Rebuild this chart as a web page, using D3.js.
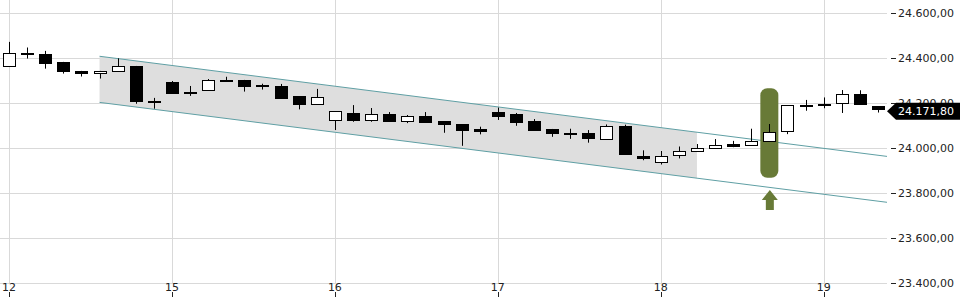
<!DOCTYPE html>
<html><head><meta charset="utf-8">
<script src="https://cdn.jsdelivr.net/npm/d3@7"></script>
<style>body{margin:0;background:#fff}svg{display:block;font-family:"DejaVu Sans",sans-serif}</style>
</head><body><svg id="c" width="960" height="300"></svg>
<script>
// ---- data ----
const dayLabels = ["12","15","16","17","18","19"];
const dayStartIdx = [0,9,18,27,36,45];
const opens  = [24365,24424,24418,24384,24344,24334,24343,24366,24212,24295,24251,24258,24303,24304,24281,24278,24232,24198,24124,24157,24127,24152,24118,24143,24121,24108,24087,24161,24152,24120,24086,24069,24066,24042,24099,23968,23940,23969,23986,24000,24019,24016,24031,24075,24193,24199,24198,24241,24187];
const highs  = [24473,24448,24433,24384,24344,24344,24400,24366,24224,24299,24277,24308,24318,24304,24287,24286,24232,24264,24165,24192,24179,24161,24148,24161,24121,24108,24096,24181,24157,24130,24086,24087,24081,24106,24105,23991,23988,24008,24019,24041,24033,24087,24108,24191,24215,24226,24259,24258,24187];
const lows   = [24362,24399,24354,24332,24319,24310,24342,24198,24176,24247,24233,24258,24299,24252,24261,24225,24173,24196,24081,24118,24118,24122,24112,24118,24069,24011,24062,24126,24100,24082,24051,24042,24025,24038,23973,23947,23928,23955,23986,24000,24005,24016,24031,24063,24167,24178,24157,24197,24159];
const closes = [24423,24419,24376,24343,24334,24344,24365,24212,24209,24247,24249,24302,24301,24278,24279,24225,24198,24227,24164,24127,24152,24122,24142,24118,24106,24082,24077,24145,24118,24082,24069,24067,24042,24099,23973,23958,23967,23986,24001,24013,24010,24032,24072,24191,24191,24197,24240,24197,24171.8];
const yTicks = [24600,24400,24200,24000,23800,23600,23400];
const channelIdx = [5, 48.5];
const channelUpper = [24409, 23964];
const channelLower = [24204, 23760];
const shadeEndIdx = 38;
const highlightIdx = 42;
const highlightRange = [23869, 24267];
const arrowRange = [23726, 23815];
const lastPrice = 24171.80;

// ---- scales ----
const svg = d3.select("#c");
const x = d3.scaleLinear().domain([-0.5, 48.5]).range([0, 887]);
const y = d3.scaleLinear().domain([23400, 24600]).range([283.3, 13.3]);
const de = d3.formatLocale({decimal:",", thousands:".", grouping:[3], currency:["","€"]});
const fmt = de.format(",.2f");
const crisp = v => Math.round(v) + 0.5;

// gridlines
svg.append("g").selectAll("line").data(yTicks).join("line")
  .attr("x1", 0).attr("x2", 887).attr("y1", d => crisp(y(d))).attr("y2", d => crisp(y(d)))
  .attr("stroke", "#d9d9d9");
svg.append("g").selectAll("line").data(dayStartIdx).join("line")
  .attr("x1", d => crisp(x(d))).attr("x2", d => crisp(x(d))).attr("y1", 0).attr("y2", 284)
  .attr("stroke", "#d9d9d9");

// channel
const trend = (arr, i) => arr[0] + (arr[1]-arr[0]) * (i - channelIdx[0]) / (channelIdx[1]-channelIdx[0]);
const shadeIdx = [channelIdx[0], shadeEndIdx];
const shadePts = shadeIdx.map(i => [x(i), y(trend(channelUpper, i))])
  .concat(shadeIdx.slice().reverse().map(i => [x(i), y(trend(channelLower, i))]));
svg.append("polygon").attr("points", shadePts.map(p => p.join(",")).join(" ")).attr("fill", "#dedede");
[channelUpper, channelLower].forEach(arr => {
  svg.append("line")
    .attr("x1", x(channelIdx[0])).attr("y1", y(arr[0]))
    .attr("x2", x(channelIdx[1])).attr("y2", y(arr[1]))
    .attr("stroke", "#5f9fa4").attr("stroke-width", 1);
});

// highlight
const green = "#687a37";
svg.append("rect")
  .attr("x", x(highlightIdx) - 9).attr("width", 18)
  .attr("y", y(highlightRange[1])).attr("height", y(highlightRange[0]) - y(highlightRange[1]))
  .attr("rx", 7).attr("fill", green);

// candles
const idx = d3.range(opens.length);
const cg = svg.append("g");
cg.selectAll("line").data(idx).join("line")
  .attr("x1", i => crisp(x(i))).attr("x2", i => crisp(x(i)))
  .attr("y1", i => y(highs[i])).attr("y2", i => y(lows[i]))
  .attr("stroke", "#000");
cg.selectAll("rect").data(idx).join("rect")
  .attr("x", i => Math.round(x(i)) - 5.5).attr("width", 12)
  .attr("y", i => Math.round(y(Math.max(opens[i], closes[i]))) + 0.5)
  .attr("height", i => Math.max(1, Math.round(Math.abs(y(opens[i]) - y(closes[i])))))
  .attr("fill", i => closes[i] >= opens[i] ? "#fff" : "#000")
  .attr("stroke", "#000");

// arrow
const ax = x(highlightIdx) + 0.5, at = y(arrowRange[1]), ab = y(arrowRange[0]);
svg.append("path")
  .attr("d", `M${ax},${at} L${ax+8},${at+10} L${ax+4},${at+10} L${ax+4},${ab} L${ax-4},${ab} L${ax-4},${at+10} L${ax-8},${at+10} Z`)
  .attr("fill", green);

// y axis
const ya = svg.append("g");
ya.selectAll("line").data(yTicks).join("line")
  .attr("x1", 891).attr("x2", 896).attr("y1", d => crisp(y(d))).attr("y2", d => crisp(y(d)))
  .attr("stroke", "#222");
ya.selectAll("text").data(yTicks).join("text")
  .attr("x", 898).attr("y", d => y(d)).attr("dy", "0.36em")
  .attr("font-size", 11).attr("fill", "#222").text(d => fmt(d));

// x axis
const xa = svg.append("g");
xa.selectAll("line").data(dayStartIdx).join("line")
  .attr("x1", d => crisp(x(d))).attr("x2", d => crisp(x(d))).attr("y1", 292).attr("y2", 297)
  .attr("stroke", "#222");
xa.selectAll("text").data(dayStartIdx).join("text")
  .attr("x", d => x(d)).attr("y", 287).attr("dy", "0.36em").attr("text-anchor", "middle")
  .attr("font-size", 11).attr("fill", "#222").text((d, i) => dayLabels[i]);

// last price label
const ly = y(lastPrice) + 1.5;
svg.append("path")
  .attr("d", `M887,${ly} L896,${ly-8.5} L960,${ly-8.5} L960,${ly+8.5} L896,${ly+8.5} Z`)
  .attr("fill", "#000");
svg.append("text").attr("x", 898).attr("y", ly).attr("dy", "0.36em")
  .attr("font-size", 11).attr("fill", "#fff").text(fmt(lastPrice));
</script></body></html>
